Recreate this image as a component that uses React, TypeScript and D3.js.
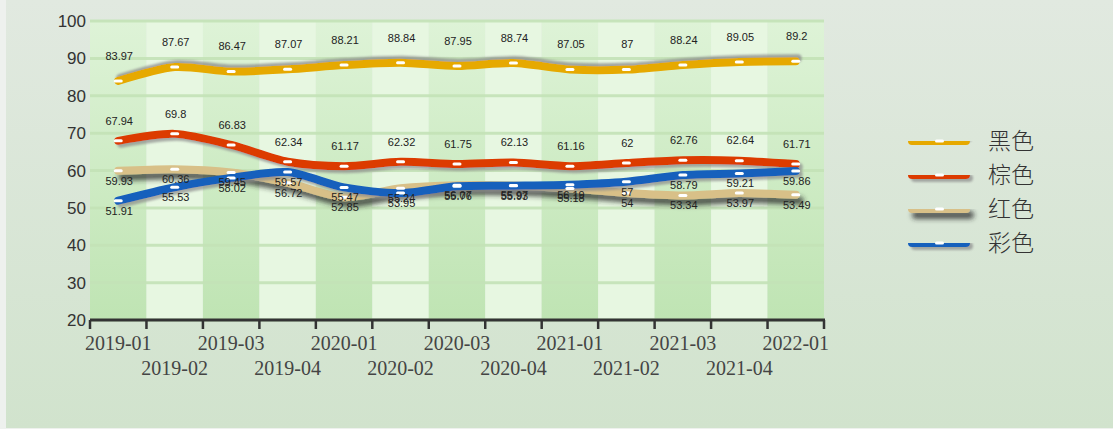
import React from 'react';
import * as d3 from 'd3';

const categories = ['2019-01', '2019-02', '2019-03', '2019-04', '2020-01', '2020-02', '2020-03', '2020-04', '2021-01', '2021-02', '2021-03', '2021-04', '2022-01'];
const black = [83.97, 87.67, 86.47, 87.07, 88.21, 88.84, 87.95, 88.74, 87.05, 87, 88.24, 89.05, 89.2];
const brown = [67.94, 69.8, 66.83, 62.34, 61.17, 62.32, 61.75, 62.13, 61.16, 62, 62.76, 62.64, 61.71];
const red = [59.93, 60.36, 59.45, 56.72, 52.85, 55.24, 56.07, 55.97, 55.18, 54, 53.34, 53.97, 53.49];
const colorful = [51.91, 55.53, 58.02, 59.57, 55.47, 53.95, 55.76, 55.93, 56.19, 57, 58.79, 59.21, 59.86];
const yTicks = [20, 30, 40, 50, 60, 70, 80, 90, 100];

const series = [
  { name: '黑色', values: black, color: '#e6a900', shadow: { dx: 2, dy: -3, blur: 0.8, c: '#8a8a8a', o: 0.75 }, labelDy: -25 },
  { name: '棕色', values: brown, color: '#dc3b00', shadow: { dx: 3, dy: 3, blur: 1, c: '#8a8a8a', o: 0.7 }, labelDy: -20 },
  { name: '红色', values: red, color: '#d8c088', shadow: { dx: 4, dy: 6, blur: 2.5, c: '#2a2a2a', o: 0.75 }, labelDy: 10 },
  { name: '彩色', values: colorful, color: '#1660bc', shadow: { dx: 3, dy: 3, blur: 1, c: '#8a8a8a', o: 0.7 }, labelDy: 10 },
];

const W = 1113;
const H = 429;
const left = 90, right = 824, top = 21, bottom = 320;

export default function App() {
  const x = d3.scaleBand<string>().domain(categories).range([left, right]);
  const y = d3.scaleLinear().domain([20, 100]).range([bottom, top]);
  const cx = (i: number) => (x(categories[i]) as number) + x.bandwidth() / 2;
  const line = d3.line<number>()
    .x((d, i) => cx(i))
    .y(d => y(d))
    .curve(d3.curveCardinal.tension(0.2));
  const bounds = categories.map(c => x(c) as number).concat([right]);

  return (
    <svg width={W} height={H} style={{ position: 'absolute', left: 0, top: 0 }}>
      <defs>
        <linearGradient id="bg" x1="0" y1="0" x2="0" y2="1">
          <stop offset="0%" stopColor="#e1e9e0" />
          <stop offset="100%" stopColor="#d1e3cd" />
        </linearGradient>
        <linearGradient id="band" x1="0" y1="0" x2="0" y2="1">
          <stop offset="0%" stopColor="#def3d7" />
          <stop offset="100%" stopColor="#bfe4b3" />
        </linearGradient>
        {series.map((s, k) => (
          <filter key={k} id={'sh' + k} filterUnits="userSpaceOnUse" x="0" y="0" width={W} height={H}>
            <feDropShadow dx={s.shadow.dx} dy={s.shadow.dy} stdDeviation={s.shadow.blur} floodColor={s.shadow.c} floodOpacity={s.shadow.o} />
          </filter>
        ))}
      </defs>
      <rect x={0} y={0} width={W} height={H} fill="#eef1ee" />
      <rect x={6} y={0} width={W - 6} height={H - 1} fill="url(#bg)" />

      {/* bands */}
      {categories.map((c, i) => (
        <rect key={c} x={x(c)} y={top} width={x.bandwidth()} height={bottom - top}
          fill={i % 2 === 0 ? 'url(#band)' : '#e7f7e1'} />
      ))}
      {/* grid */}
      {yTicks.map(t => (
        <line key={t} x1={left} x2={right} y1={y(t)} y2={y(t)} stroke="#c4e3b7" strokeWidth={3} opacity={0.9} />
      ))}

      {/* y labels */}
      {yTicks.map(t => (
        <text key={t} x={86} y={y(t)} dy="0.36em" textAnchor="end" fontFamily="Liberation Sans, Arial, sans-serif"
          fontSize={17} fill="#333">{t}</text>
      ))}

      {/* x axis */}
      <line x1={left} x2={right + 1} y1={bottom} y2={bottom} stroke="#333" strokeWidth={3} />
      {bounds.map((b, i) => (
        <line key={i} x1={b} x2={b} y1={bottom} y2={bottom + 9} stroke="#333" strokeWidth={2.5} />
      ))}
      {categories.map((c, i) => (
        <text key={c} x={cx(i)} y={i % 2 === 0 ? 350 : 375} textAnchor="middle"
          fontFamily="Liberation Serif, Times New Roman, serif" fontSize={20} fill="#444">{c}</text>
      ))}

      {/* lines */}
      {series.map((s, k) => (
        <path key={s.name} d={line(s.values) || ''} fill="none" stroke={s.color} strokeWidth={8}
          strokeLinecap="round" filter={`url(#sh${k})`} />
      ))}
      {series.map(s => (
        <g key={s.name}>
          {s.values.map((v, i) => (
            <rect key={i} x={cx(i) - 4.5} y={y(v) - 1.5} width={9} height={3} rx={1.5} fill="#fff" />
          ))}
        </g>
      ))}
      {series.map(s => (
        <g key={s.name}>
          {s.values.map((v, i) => (
            <text key={i} x={cx(i) + 1} y={y(v) + s.labelDy} dy="0.35em" textAnchor="middle"
              fontFamily="Liberation Sans, Arial, sans-serif" fontSize={11} fill="#222">{v}</text>
          ))}
        </g>
      ))}

      {/* legend */}
      {series.map((s, k) => (
        <g key={s.name} transform={`translate(0,${141 + k * 34})`}>
          <rect x={908} y={-4} width={62} height={8} rx={4} fill={s.color} filter={`url(#sh${k})`} />
          <rect x={935} y={-1.5} width={9} height={3} rx={1.5} fill="#fff" />
          <text x={988} y={0} dy="0.36em" fontFamily="Noto Sans CJK SC, sans-serif" fontSize={23}
            fontWeight={300} fill="#333">{s.name}</text>
        </g>
      ))}
    </svg>
  );
}
